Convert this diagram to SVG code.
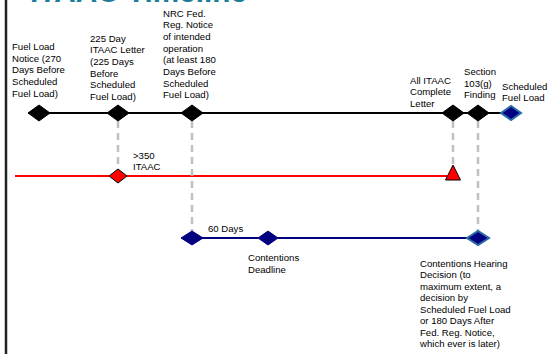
<svg xmlns="http://www.w3.org/2000/svg" width="548" height="354" viewBox="0 0 548 354">
<style>
text{font-family:"Liberation Sans",Arial,sans-serif;font-size:9.6px;fill:#000}
.title{font-size:30px;font-weight:bold;fill:#1b7d99}
.blk{fill:#000;stroke:#000;stroke-width:1}
.nv{fill:#000080;stroke:#000080;stroke-width:1}
.nvb{fill:#000080;stroke:#2a6aa8;stroke-width:2}
.dash{stroke:#c0c0c0;stroke-width:2.5;stroke-dasharray:7,5;fill:none}
</style>
<rect width="548" height="354" fill="#fff"/>
<line x1="6" y1="0" x2="6" y2="354" stroke="#222" stroke-width="2.5"/>
<text class="title" x="30" y="2" textLength="217" lengthAdjust="spacingAndGlyphs">ITAAC Timeline</text>
<g id="connectors">
<line x1="28" y1="113" x2="502" y2="113" stroke="#000" stroke-width="2"/>
<line x1="15" y1="176" x2="450" y2="176" stroke="#f00" stroke-width="2"/>
<line x1="192" y1="238" x2="478" y2="238" stroke="#000080" stroke-width="2"/>
<line class="dash" x1="118" y1="121" x2="118" y2="169"/>
<line class="dash" x1="192" y1="121" x2="192" y2="231"/>
<line class="dash" x1="453" y1="121" x2="453" y2="165"/>
<line class="dash" x1="478" y1="121" x2="478" y2="231"/>
</g>
<g id="n1"><polygon class="blk" points="28,113 39,105 50,113 39,121"/>
<text x="12" y="50">Fuel Load</text><text x="12" y="61.7">Notice (270</text><text x="12" y="73.4">Days Before</text><text x="12" y="85.1">Scheduled</text><text x="12" y="96.8">Fuel Load)</text></g>
<g id="n2"><polygon class="blk" points="107,113 118,105 129,113 118,121"/>
<text x="90" y="41.5">225 Day</text><text x="90" y="53.2">ITAAC Letter</text><text x="90" y="64.9">(225 Days</text><text x="90" y="76.6">Before</text><text x="90" y="88.3">Scheduled</text><text x="90" y="100">Fuel Load)</text></g>
<g id="n3"><polygon class="blk" points="181,113 192,105 203,113 192,121"/>
<text x="163" y="16.5">NRC Fed.</text><text x="163" y="28.2">Reg. Notice</text><text x="163" y="39.9">of intended</text><text x="163" y="51.6">operation</text><text x="163" y="63.3">(at least 180</text><text x="163" y="75">Days Before</text><text x="163" y="86.7">Scheduled</text><text x="163" y="98.4">Fuel Load)</text></g>
<g id="n4"><polygon class="blk" points="442,113 453,105 464,113 453,121"/>
<text x="410" y="83.5">All ITAAC</text><text x="410" y="95.2">Complete</text><text x="410" y="106.9">Letter</text></g>
<g id="n5"><polygon class="blk" points="467,113 478,105 489,113 478,121"/>
<text x="464" y="75">Section</text><text x="464" y="86.7">103(g)</text><text x="464" y="98.4">Finding</text></g>
<g id="n6"><polygon class="nvb" points="501,113 511,106 521,113 511,120"/>
<text x="502" y="89.5">Scheduled</text><text x="502" y="101.2">Fuel Load</text></g>
<g id="n7"><polygon points="109,176 118,169 127,176 118,183" fill="#f00" stroke="#000" stroke-width="1"/>
<text x="133" y="158.5">&gt;350</text><text x="133" y="170.2">ITAAC</text></g>
<g id="n8"><polygon points="453,165 460.5,180 445.5,180" fill="#f00" stroke="#000" stroke-width="1"/></g>
<g id="n9"><polygon class="nv" points="181,238 192,231 203,238 192,245"/>
<text x="208" y="232">60 Days</text></g>
<g id="n10"><polygon class="nv" points="258,238 268,231 278,238 268,245"/>
<text x="248" y="261">Contentions</text><text x="248" y="272.7">Deadline</text></g>
<g id="n11"><polygon class="nvb" points="467,238 478,231 489,238 478,245"/>
<text x="420" y="266.5">Contentions Hearing</text><text x="420" y="278">Decision (to</text><text x="420" y="289.5">maximum extent, a</text><text x="420" y="301">decision by</text><text x="420" y="312.5">Scheduled Fuel Load</text><text x="420" y="324">or 180 Days After</text><text x="420" y="335.5">Fed. Reg. Notice,</text><text x="420" y="347">which ever is later)</text></g>
</svg>
